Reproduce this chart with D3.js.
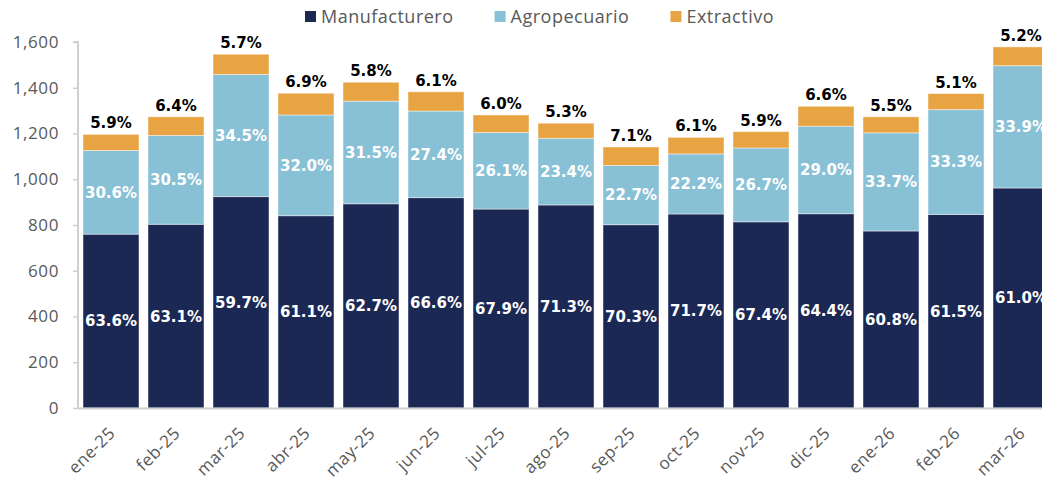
<!DOCTYPE html>
<html>
<head>
<meta charset="utf-8">
<script src="https://cdnjs.cloudflare.com/ajax/libs/d3/7.8.5/d3.min.js"></script>
<style>
    body { margin: 0; background: #fff; }
    .tick-label { font-family: "Open Sans", sans-serif; fill: #595959; }
    .val { font-family: "DejaVu Sans", Verdana, sans-serif; font-weight: bold; }
</style>
</head>
<body>
<svg id="chart" width="1042" height="483"></svg>
<script>
// Months on the x axis
const months = ["ene-25", "feb-25", "mar-25", "abr-25", "may-25", "jun-25", "jul-25", "ago-25",
    "sep-25", "oct-25", "nov-25", "dic-25", "ene-26", "feb-26", "mar-26"];

// Bar totals
const totals = [1195, 1273, 1548, 1376, 1424, 1381, 1281, 1245, 1140, 1183, 1208, 1319, 1273, 1376, 1577];

// Shares (%) printed on the bars
const manufacturero = [63.6, 63.1, 59.7, 61.1, 62.7, 66.6, 67.9, 71.3, 70.3, 71.7, 67.4, 64.4, 60.8, 61.5, 61.0];
const agropecuario = [30.6, 30.5, 34.5, 32.0, 31.5, 27.4, 26.1, 23.4, 22.7, 22.2, 26.7, 29.0, 33.7, 33.3, 33.9];
const extractivo = [5.9, 6.4, 5.7, 6.9, 5.8, 6.1, 6.0, 5.3, 7.1, 6.1, 5.9, 6.6, 5.5, 5.1, 5.2];

const yTicks = [0, 200, 400, 600, 800, 1000, 1200, 1400, 1600];

const series = [
    {key: "Manufacturero", shares: manufacturero, color: "#1c2854"},
    {key: "Agropecuario", shares: agropecuario, color: "#88c0d6"},
    {key: "Extractivo", shares: extractivo, color: "#e8a342"}
];

const svg = d3.select("#chart");
const left = 78, bottom = 408;

const y = d3.scaleLinear().domain([0, 1600]).range([bottom, 42]);

// step 65px, bar 56px
const x = d3.scaleBand()
    .domain(months)
    .range([left, left + 65 * (15 - 9 / 65 + 2 * 5 / 65)])
    .paddingInner(9 / 65)
    .paddingOuter(5 / 65);

// Stack the segments: each segment = total * share
let rows = months.map((m, i) => {
    let row = {month: m};
    series.forEach(s => { row[s.key] = totals[i] * s.shares[i] / 100; });
    return row;
});
let stacked = d3.stack().keys(series.map(s => s.key))(rows);

// Y axis
let yAxis = svg.append("g")
    .attr("transform", `translate(${left},0)`)
    .call(d3.axisLeft(y).tickValues(yTicks).tickSize(5).tickPadding(14)
        .tickFormat(d3.format(",")));
yAxis.select(".domain").attr("stroke", "#d0d0d0").attr("stroke-width", 2)
    .attr("d", `M-5,${y(1600)}H0V${bottom}`);
yAxis.selectAll(".tick line").attr("stroke", "#d0d0d0").attr("stroke-width", 1.5);
yAxis.selectAll(".tick text").attr("class", "tick-label").style("font-size", "17px")
    .attr("letter-spacing", "0.6px");

// Bars
series.forEach((s, si) => {
    svg.append("g").selectAll("rect")
        .data(stacked[si])
        .enter()
        .append("rect")
        .attr("x", d => x(d.data.month))
        .attr("width", x.bandwidth())
        .attr("y", d => y(d[1]))
        .attr("height", d => y(d[0]) - y(d[1]))
        .attr("fill", s.color)
        .attr("stroke", "rgba(255,255,255,0.45)")
        .attr("stroke-width", 1);
});

// X baseline
svg.append("line")
    .attr("x1", left).attr("x2", 1042)
    .attr("y1", bottom + 0.5).attr("y2", bottom + 0.5)
    .attr("stroke", "#d0d0d0").attr("stroke-width", 2);

// Labels inside the bars
[0, 1].forEach(si => {
    svg.append("g").selectAll("text")
        .data(stacked[si])
        .enter()
        .append("text")
        .attr("class", "val")
        .attr("x", d => x(d.data.month) + x.bandwidth() / 2)
        .attr("y", d => (y(d[0]) + y(d[1])) / 2)
        .attr("dy", "0.36em")
        .attr("text-anchor", "middle")
        .attr("fill", "#fff")
        .style("font-size", "15px")
        .text((d, i) => series[si].shares[i].toFixed(1) + "%");
});

// Extractivo labels above the bars
svg.append("g").selectAll("text")
    .data(stacked[2])
    .enter()
    .append("text")
    .attr("class", "val")
    .attr("x", d => x(d.data.month) + x.bandwidth() / 2)
    .attr("y", d => y(d[1]) - 6)
    .attr("text-anchor", "middle")
    .attr("fill", "#000")
    .style("font-size", "15px")
    .text((d, i) => extractivo[i].toFixed(1) + "%");

// Month labels, rotated
svg.append("g").selectAll("text")
    .data(months)
    .enter()
    .append("text")
    .attr("class", "tick-label")
    .attr("transform", d => `translate(${x(d) + x.bandwidth() / 2 + 1},${bottom + 22}) rotate(-45)`)
    .attr("text-anchor", "end")
    .attr("dy", "0.35em")
    .attr("letter-spacing", "0.5px")
    .style("font-size", "17px")
    .text(d => d);

// Legend
let lx = 305;
series.forEach(s => {
    let g = svg.append("g").attr("transform", `translate(${lx},0)`);
    g.append("rect").attr("x", 0).attr("y", 11).attr("width", 11).attr("height", 11).attr("fill", s.color);
    let t = g.append("text")
        .attr("class", "tick-label")
        .attr("x", 16).attr("y", 17).attr("dy", "0.35em")
        .attr("letter-spacing", "0.5px")
        .style("font-size", "18px")
        .text(s.key);
    lx += 16 + t.node().getComputedTextLength() + 41;
});
</script>
</body>
</html>
